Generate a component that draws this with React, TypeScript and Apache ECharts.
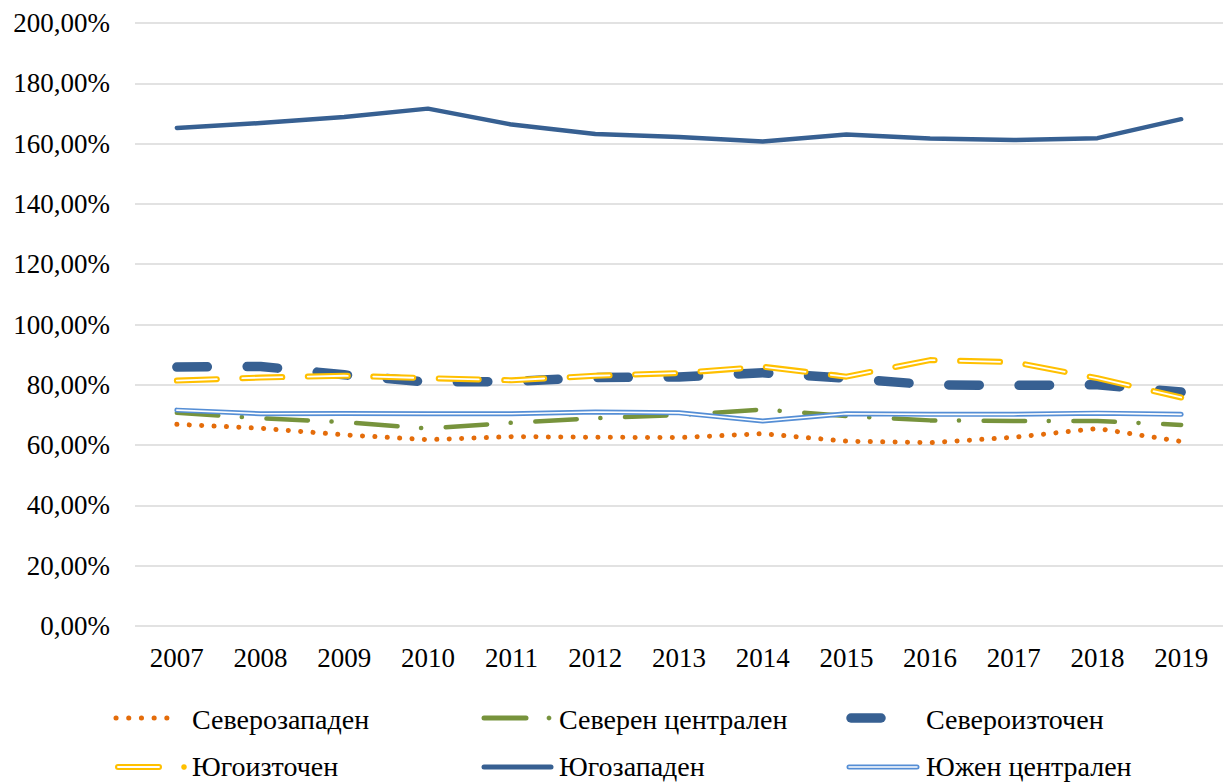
import React, { useEffect, useRef } from "react";
import * as echarts from "echarts";

const years = ["2007", "2008", "2009", "2010", "2011", "2012", "2013", "2014", "2015", "2016", "2017", "2018", "2019"];
const yTicks = [0, 20, 40, 60, 80, 100, 120, 140, 160, 180, 200];

const severozapaden = [66.9, 65.6, 63.4, 61.8, 62.8, 62.6, 62.5, 63.8, 61.3, 60.8, 62.6, 65.5, 61.2];
const severenCentralen = [70.7, 68.9, 67.6, 65.5, 67.4, 68.9, 70.0, 71.8, 69.6, 68.2, 68.0, 68.0, 66.7];
const severoiztochen = [85.9, 86.1, 83.3, 80.9, 81.1, 82.4, 82.6, 84.0, 82.2, 80.0, 79.8, 80.0, 77.6];
const yugoiztochen = [81.4, 82.4, 83.0, 82.2, 81.5, 83.0, 83.9, 86.0, 82.7, 88.2, 87.5, 82.2, 75.8];
const yugozapaden = [165.2, 166.8, 168.8, 171.6, 166.3, 163.2, 162.2, 160.7, 163.0, 161.7, 161.2, 161.8, 168.1];
const yuzhenCentralen = [71.6, 70.4, 70.5, 70.4, 70.4, 71.0, 70.7, 68.0, 70.4, 70.2, 70.2, 70.6, 70.2];

const names = ["Северозападен", "Северен централен", "Североизточен", "Югоизточен", "Югозападен", "Южен централен"];

const C_ORANGE = "#E46C0A";
const C_GREEN = "#77933C";
const C_DBLUE = "#376092";
const C_YELLOW = "#FFC000";
const C_LBLUE = "#558ED5";

const FONT = "Liberation Serif";

export default function App() {
  const ref = useRef<HTMLDivElement>(null);
  useEffect(() => {
    document.body.style.margin = "0";
    const chart = echarts.init(ref.current!, null, { renderer: "svg" });
    const line = (name: string, data: number[], color: string, width: number, dash: any, cap: any = "round", z = 2) => ({
      type: "line",
      name,
      data,
      symbol: "none",
      smooth: false,
      z,
      lineStyle: { color, width, type: dash, cap, join: "round" },
    });

    const lx = [115, 482, 846];
    const ly = [718, 767];
    const tx = [192, 559, 926];
    const txt = (x: number, y: number, s: string) => ({
      type: "text",
      x,
      y,
      style: { text: s, fontFamily: FONT, fontSize: 28, fill: "#000", textVerticalAlign: "middle", textAlign: "left" },
    });
    const seg = (x1: number, x2: number, y: number, stroke: string, lineWidth: number, extra: any = {}) => ({
      type: "line",
      shape: { x1, y1: y, x2, y2: y },
      style: { stroke, lineWidth, lineCap: "round", ...extra },
    });
    const dot = (cx: number, cy: number, r: number, fill: string) => ({
      type: "circle",
      shape: { cx, cy, r },
      style: { fill },
    });

    const legend: any[] = [
      seg(lx[0] + 1, lx[0] + 64, ly[0], C_ORANGE, 5, { lineDash: [0.1, 12.6] }),
      txt(tx[0], ly[0] + 1, names[0]),
      seg(lx[1] + 2, lx[1] + 44, ly[0], C_GREEN, 5),
      dot(lx[1] + 67, ly[0], 2.4, C_GREEN),
      txt(tx[1], ly[0] + 1, names[1]),
      seg(lx[2] + 5, lx[2] + 35, ly[0], C_DBLUE, 9.5),
      txt(tx[2], ly[0] + 1, names[2]),
      seg(lx[0] + 3, lx[0] + 44, ly[1], C_YELLOW, 6),
      seg(lx[0] + 3, lx[0] + 44, ly[1], "#fff", 1.8),
      dot(lx[0] + 69, ly[1], 2.8, C_YELLOW),
      txt(tx[0], ly[1] - 1, names[3]),
      seg(lx[1] + 2, lx[1] + 69, ly[1], C_DBLUE, 5),
      txt(tx[1], ly[1] - 1, names[4]),
      seg(lx[2] + 3, lx[2] + 71, ly[1], C_LBLUE, 5),
      seg(lx[2] + 3, lx[2] + 71, ly[1], "#fff", 1.6),
      txt(tx[2], ly[1] - 1, names[5]),
    ];

    chart.setOption({
      animation: false,
      backgroundColor: "#fff",
      textStyle: { fontFamily: FONT },
      grid: { left: 135, top: 23, width: 1088, height: 603, containLabel: false },
      xAxis: {
        type: "category",
        data: years,
        boundaryGap: true,
        axisLine: { show: false },
        axisTick: { show: false },
        axisLabel: { color: "#000", fontSize: 27, fontFamily: FONT, margin: 18 },
        splitLine: { show: false },
      },
      yAxis: {
        type: "value",
        min: yTicks[0],
        max: yTicks[yTicks.length - 1],
        interval: yTicks[1] - yTicks[0],
        axisLine: { show: false },
        axisTick: { show: false },
        axisLabel: {
          color: "#000",
          fontSize: 27,
          fontFamily: FONT,
          margin: 25,
          formatter: (v: number) => v.toFixed(2).replace(".", ",") + "%",
        },
        splitLine: { show: true, lineStyle: { color: "#D9D9D9", width: 1.5 } },
      },
      series: [
        line(names[0], severozapaden, C_ORANGE, 5, [0.1, 12.3]),
        line(names[1], severenCentralen, C_GREEN, 4.5, [41.5, 23.6, 0.1, 24.6]),
        line(names[2], severoiztochen, C_DBLUE, 9.5, [30.5, 39.8]),
        line(names[3], yugoiztochen, C_YELLOW, 6, [40, 25.5]),
        line(names[3] + " ", yugoiztochen, "#fff", 1.8, [40, 25.5]),
        line(names[4], yugozapaden, C_DBLUE, 4.5, "solid"),
        line(names[5], yuzhenCentralen, C_LBLUE, 5, "solid"),
        line(names[5] + " ", yuzhenCentralen, "#fff", 1.6, "solid"),
      ],
      graphic: legend,
    });
    return () => chart.dispose();
  }, []);
  return <div ref={ref} style={{ width: 1223, height: 782 }} />;
}
